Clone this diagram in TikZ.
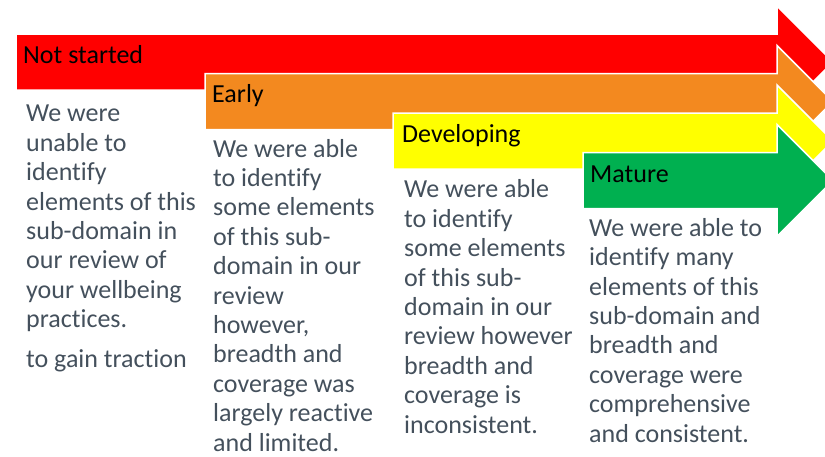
\documentclass[tikz,border=0pt]{standalone}
\usepackage{fontspec}
\setmainfont{Carlito}[Ligatures=NoCommon, RawFeature=-calt]
\usetikzlibrary{positioning}

\definecolor{notstarted}{RGB}{255,0,0}
\definecolor{early}{RGB}{243,137,31}
\definecolor{developing}{RGB}{255,255,0}
\definecolor{mature}{RGB}{0,176,80}
\definecolor{bodytext}{RGB}{68,80,92}

\begin{document}
\begin{tikzpicture}[x=1pt,y=-1pt,
	stage/.style={draw=white, line width=1.5pt},
	title/.style={anchor=base west, inner sep=0pt, font=\fontsize{26}{29.3}\selectfont},
	desc/.style={anchor=base west, align=left, inner sep=0pt, text=bodytext, font=\fontsize{26}{29.4}\selectfont}]
		\clip (0,0) rectangle (825,456);

		% the four stage arrows, each one drawn over the one before
		\foreach \x/\y/\c in {16/34/notstarted, 205/73.5/early, 393/113/developing, 583/152.5/mature}
			\fill[\c, stage] (\x,\y) -- (777,\y) -- (777,\y-28) -- (833,\y+28) -- (777,\y+84) -- (777,\y+56) -- (\x,\y+56) -- cycle;

		\node[title] (ns) at (23,63) {Not started};
		\node[title] (early) at (212,102) {Early};
		\node[title] (dev) at (402,142) {Developing};
		\node[title] (mature) at (590,182) {Mature};

		% base anchor sits on the last line of each text
		\node[desc] (nsText) at (26,367) {We were\\unable to\\identify\\elements of this\\sub-domain in\\our review of\\your wellbeing\\practices.\\[10pt]to gain traction};
		\node[desc] (earlyText) at (213,451) {We were able\\to identify\\some elements\\of this sub-\\domain in our\\review\\however,\\breadth and\\coverage was\\largely reactive\\and limited.};
		\node[desc] (devText) at (404,433) {We were able\\to identify\\some elements\\of this sub-\\domain in our\\review however\\breadth and\\coverage is\\inconsistent.};
		\node[desc] (matureText) at (589,442) {We were able to\\identify many\\elements of this\\sub-domain and\\breadth and\\coverage were\\comprehensive\\and consistent.};
	\end{tikzpicture}
\end{document}
